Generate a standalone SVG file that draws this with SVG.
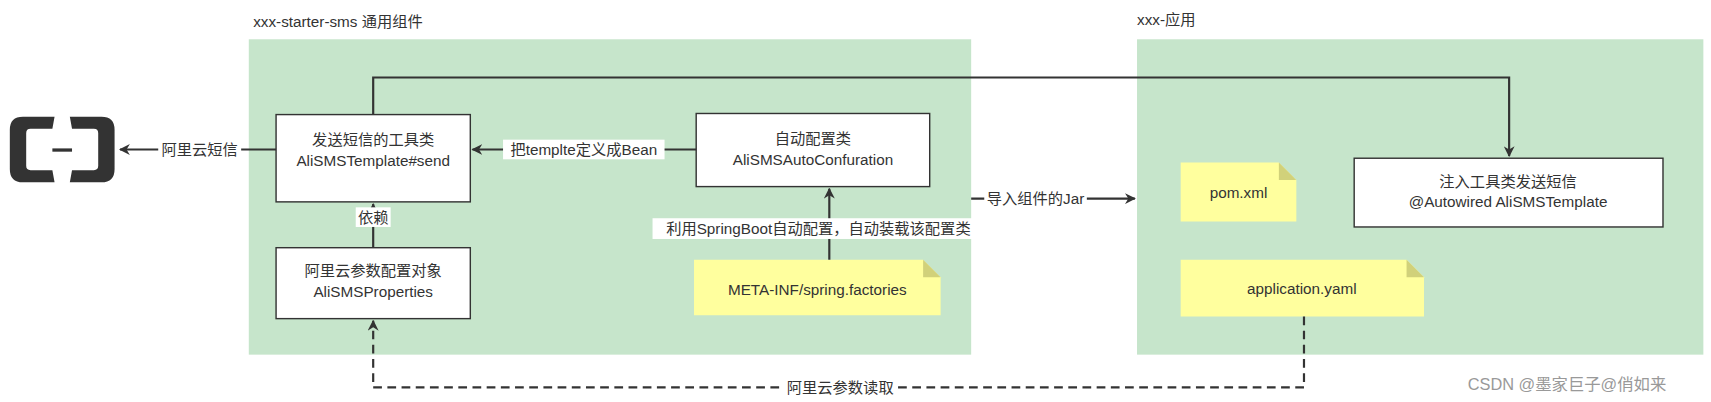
<svg xmlns="http://www.w3.org/2000/svg" width="1711" height="402" viewBox="0 0 1711 402">
<style>
text{font-family:"Liberation Sans","Noto Sans CJK SC",sans-serif;font-size:14px;fill:#333}
.c{text-anchor:middle}
.grp{fill:#c6e5cb}
.box{fill:#fff;stroke:#333;stroke-width:1.3}
.note{fill:#ffff9e}
.fold{fill:#d1d17a}
.ln{fill:none;stroke:#333;stroke-width:2}
.lb{fill:#fff}
</style>
<defs>
<marker id="a" markerWidth="10" markerHeight="10" refX="9" refY="5" orient="auto" markerUnits="userSpaceOnUse"><path d="M0,0 L10,5 L0,10 L3,5 Z" fill="#333"/></marker>
</defs>
<rect width="1711" height="402" fill="#fff"/>
<g transform="scale(1.0912)">
<g id="group-starter"><rect class="grp" x="228" y="36" width="662" height="289"/><text x="232" y="25">xxx-starter-sms 通用组件</text></g>
<g id="group-app"><rect class="grp" x="1042" y="36" width="519" height="289"/><text x="1042" y="23">xxx-应用</text></g>
<g id="logo" fill="#333">
<path d="M50,107 H21 Q9,107 9,119 V155 Q9,167 21,167 H50 L48,156 H28 Q24,156 24,152 V122 Q24,118 28,118 H48 Z"/>
<path d="M64,107 H93 Q105,107 105,119 V155 Q105,167 93,167 H64 L66,156 H86 Q90,156 90,152 V122 Q90,118 86,118 H66 Z"/>
<rect x="48" y="136" width="18" height="3"/>
</g>
<g id="send"><rect class="box" x="253" y="105" width="178" height="80"/><text class="c" x="342" y="133">发送短信的工具类</text><text class="c" x="342" y="152">AliSMSTemplate#send</text></g>
<g id="props"><rect class="box" x="253" y="227" width="178" height="65"/><text class="c" x="342" y="253">阿里云参数配置对象</text><text class="c" x="342" y="272">AliSMSProperties</text></g>
<g id="autoconf"><rect class="box" x="638" y="104" width="214" height="67"/><text class="c" x="745" y="132">自动配置类</text><text class="c" x="745" y="151">AliSMSAutoConfuration</text></g>
<g id="meta"><path class="note" d="M636,238 H846 L862,254 V289 H636 Z"/><path class="fold" d="M846,238 L862,254 H846 Z"/><text class="c" x="749" y="270">META-INF/spring.factories</text></g>
<g id="pom"><path class="note" d="M1082,149 H1172 L1188,165 V203 H1082 Z"/><path class="fold" d="M1172,149 L1188,165 H1172 Z"/><text class="c" x="1135" y="181">pom.xml</text></g>
<g id="yaml"><path class="note" d="M1082,238 H1289 L1305,254 V290 H1082 Z"/><path class="fold" d="M1289,238 L1305,254 H1289 Z"/><text class="c" x="1193" y="269">application.yaml</text></g>
<g id="inject"><rect class="box" x="1241" y="145" width="283" height="63"/><text class="c" x="1382" y="171">注入工具类发送短信</text><text class="c" x="1382" y="190">@Autowired AliSMSTemplate</text></g>
<g id="connectors">
<path class="ln" d="M253,137 H110" marker-end="url(#a)"/>
<rect class="lb" x="145" y="128" width="76" height="18"/><text class="c" x="183" y="142">阿里云短信</text>
<path class="ln" d="M638,137 H433" marker-end="url(#a)"/>
<rect class="lb" x="461" y="128" width="148" height="18"/><text class="c" x="535" y="142">把templte定义成Bean</text>
<path class="ln" d="M342,227 V187" marker-end="url(#a)"/>
<rect class="lb" x="326" y="190" width="32" height="18"/><text class="c" x="342" y="204">依赖</text>
<path class="ln" d="M760,238 V173" marker-end="url(#a)"/>
<rect class="lb" x="598" y="200" width="304" height="19"/><text class="c" x="750" y="214">利用SpringBoot自动配置，自动装载该配置类</text>
<path class="ln" d="M890,182 H1040" marker-end="url(#a)"/>
<rect class="lb" x="902" y="173" width="94" height="18"/><text class="c" x="949" y="187">导入组件的Jar</text>
<path class="ln" d="M342,105 V71 H1383 V143" marker-end="url(#a)"/>
<path class="ln" d="M1195,290 V355 H342 V294" stroke-dasharray="8,5" marker-end="url(#a)"/>
<rect class="lb" x="718" y="346" width="104" height="18"/><text class="c" x="770" y="360">阿里云参数读取</text>
</g>
<text x="1345" y="357" style="fill:#999;font-size:15px">CSDN @墨家巨子@俏如来</text>
</g>
</svg>
